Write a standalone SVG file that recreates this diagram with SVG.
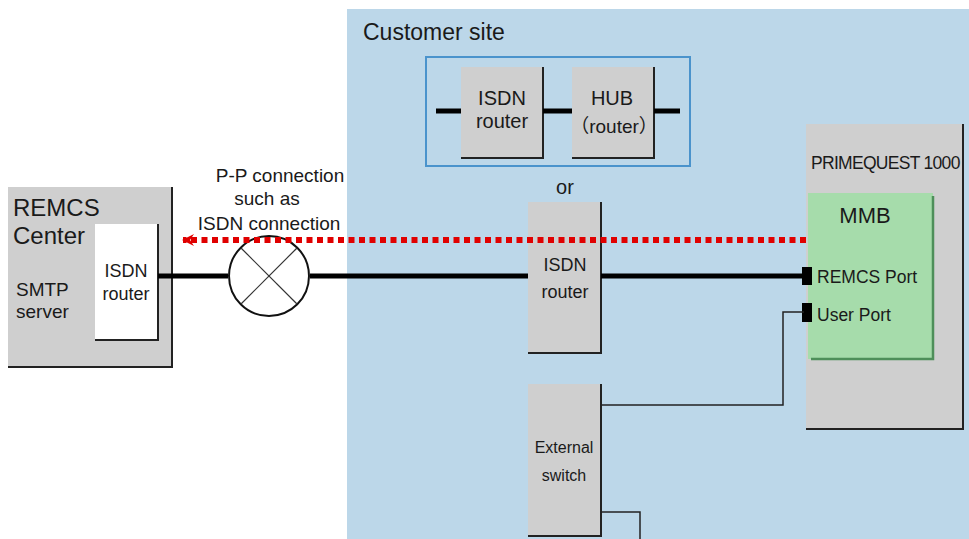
<svg xmlns="http://www.w3.org/2000/svg" width="969" height="539" viewBox="0 0 969 539">
<defs>
<style>
text{font-family:"Liberation Sans",Arial,"Noto Sans CJK JP",sans-serif;fill:#1a1a1a}
.gray{fill:#cfcfcf}
.sh{fill:none;stroke:#222;stroke-width:2}
.thick{stroke:#000;stroke-width:5;fill:none}
.thin{stroke:#222;stroke-width:1.5;fill:none}
.c{text-anchor:middle}
</style>
<marker id="arr" markerWidth="14" markerHeight="14" refX="12" refY="7" orient="auto" markerUnits="userSpaceOnUse">
<path d="M1,1 L13,7 L1,13 L5,7 Z" fill="#e00000"/>
</marker>
</defs>
<rect width="969" height="539" fill="#fff"/>
<g id="customer-site">
<rect x="347" y="9" width="622" height="530" fill="#bcd7e9"/>
<text x="363" y="40" font-size="23">Customer site</text>
</g>
<g id="alt-box">
<rect x="426" y="57" width="264" height="109" fill="none" stroke="#4a93cc" stroke-width="2"/>
<text x="565" y="194" class="c" font-size="20">or</text>
</g>
<g id="remcs-center">
<rect x="8" y="187" width="164" height="180" class="gray"/>
<polyline points="172,187 172,367 8,367" class="sh"/>
<text x="13" y="216" font-size="24">REMCS</text>
<text x="13" y="244" font-size="24">Center</text>
<text x="16" y="296" font-size="19">SMTP</text>
<text x="16" y="318" font-size="19">server</text>
</g>
<g id="remcs-isdn-router">
<rect x="95" y="224" width="63" height="116" fill="#fff"/>
<polyline points="158,224 158,340 95,340" class="sh" stroke-width="1.5"/>
<text x="126" y="277" class="c" font-size="18">ISDN</text>
<text x="126" y="300" class="c" font-size="18">router</text>
</g>
<g id="pp-connection">
<circle cx="269" cy="276" r="40" fill="#fff" stroke="#111" stroke-width="2"/>
<line x1="241" y1="248" x2="297" y2="304" stroke="#333" stroke-width="1.2"/>
<line x1="297" y1="248" x2="241" y2="304" stroke="#333" stroke-width="1.2"/>
<text x="280" y="182" class="c" font-size="19">P-P connection</text>
<text x="267" y="205" class="c" font-size="19">such as</text>
<text x="269" y="230" class="c" font-size="19">ISDN connection</text>
</g>
<g id="alt-isdn-router">
<rect x="461" y="67" width="82" height="91" class="gray"/>
<polyline points="543,67 543,158 461,158" class="sh" stroke-width="1.5"/>
<text x="502" y="105" class="c" font-size="20">ISDN</text>
<text x="502" y="128" class="c" font-size="20">router</text>
</g>
<g id="alt-hub">
<rect x="572" y="67" width="82" height="91" class="gray"/>
<polyline points="654,67 654,158 572,158" class="sh" stroke-width="1.5"/>
<text x="612" y="105" class="c" font-size="20">HUB</text>
<text x="614" y="133" class="c" font-size="19">（router）</text>
</g>
<g id="isdn-router">
<rect x="528" y="202" width="73" height="151" class="gray"/>
<polyline points="601,202 601,353 528,353" class="sh"/>
<text x="565" y="271" class="c" font-size="18">ISDN</text>
<text x="565" y="298" class="c" font-size="18">router</text>
</g>
<g id="external-switch">
<rect x="528" y="384" width="73" height="152" class="gray"/>
<polyline points="601,384 601,536 528,536" class="sh"/>
<text x="564" y="453" class="c" font-size="16">External</text>
<text x="564" y="481" class="c" font-size="16">switch</text>
</g>
<g id="primequest">
<rect x="806" y="124" width="157" height="305" class="gray"/>
<polyline points="963,124 963,429 806,429" class="sh"/>
<text x="811" y="169" font-size="17.5" letter-spacing="-0.7">PRIMEQUEST 1000</text>
</g>
<g id="mmb">
<rect x="808" y="193" width="125" height="166" fill="#a6dcab"/>
<polyline points="933,196 933,359 811,359" fill="none" stroke="#4e8f5a" stroke-width="2.5"/>
<text x="865" y="223" class="c" font-size="22">MMB</text>
<text x="817" y="283" font-size="17.5">REMCS Port</text>
<text x="817" y="321" font-size="17.5">User Port</text>
<rect x="802" y="267" width="10" height="18" fill="#000"/>
<rect x="802" y="303" width="10" height="19" fill="#000"/>
</g>
<g id="connectors">
<line x1="158" y1="276" x2="228" y2="276" class="thick"/>
<line x1="310" y1="276" x2="528" y2="276" class="thick"/>
<line x1="601" y1="276" x2="804" y2="276" class="thick"/>
<line x1="436" y1="111" x2="461" y2="111" class="thick"/>
<line x1="543" y1="111" x2="572" y2="111" class="thick"/>
<line x1="654" y1="111" x2="680" y2="111" class="thick"/>
<polyline points="601,405 783,405 783,312 804,312" class="thin"/>
<polyline points="601,512 640,512 640,539" class="thin"/>
<line x1="806" y1="240" x2="183" y2="240" stroke="#e00000" stroke-width="6" stroke-dasharray="6 4.5" marker-end="url(#arr)"/>
</g>
</svg>
